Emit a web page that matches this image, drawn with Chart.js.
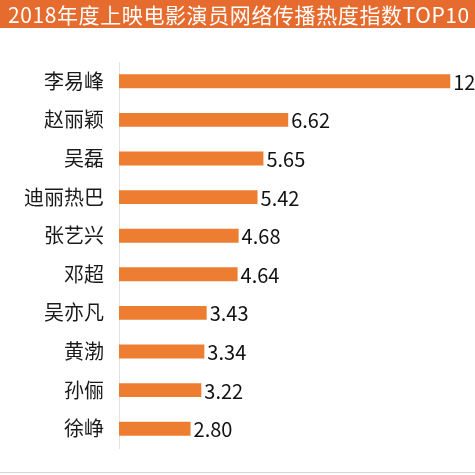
<!DOCTYPE html>
<html>
<head>
<meta charset="utf-8">
<script src="https://cdn.jsdelivr.net/npm/chart.js@4/dist/chart.umd.min.js"></script>
<style>
    html, body { margin: 0; padding: 0; background: #fff; }
    #wrap { position: relative; width: 475px; height: 475px; overflow: hidden; }
    #chart { position: absolute; left: 0; top: 0; }
    #title {
        position: absolute; left: 0; top: 0; width: 475px; height: 28px;
        background: #e56b2e; color: #fff;
        font: 400 21px "Noto Sans CJK SC", sans-serif;
        line-height: 28px; padding-left: 8px; box-sizing: border-box;
        white-space: nowrap; letter-spacing: 0.6px;
    }
    #bottomLine {
        position: absolute; left: 0; top: 472px; width: 475px; height: 1px; background: #d4d4d4;
    }
</style>
</head>
<body>
<div id="wrap">
    <canvas id="chart" width="475" height="475"></canvas>
    <div id="title">2018年度上映电影演员网络传播热度指数TOP10</div>
    <div id="bottomLine"></div>
</div>
<script>
const actors = ['李易峰', '赵丽颖', '吴磊', '迪丽热巴', '张艺兴', '邓超', '吴亦凡', '黄渤', '孙俪', '徐峥'];
const heatIndex = [12.96, 6.62, 5.65, 5.42, 4.68, 4.64, 3.43, 3.34, 3.22, 2.80];

// draw the value text just past the end of each bar
const valueLabels = {
    id: 'valueLabels',
    afterDatasetsDraw(chart) {
        const ctx = chart.ctx;
        const meta = chart.getDatasetMeta(0);
        ctx.save();
        ctx.font = '20px "Noto Sans CJK SC", sans-serif';
        ctx.fillStyle = '#111';
        ctx.textAlign = 'left';
        ctx.textBaseline = 'middle';
        meta.data.forEach((bar, i) => {
            ctx.fillText(heatIndex[i].toFixed(2), bar.x + 3, bar.y + 1);
        });
        ctx.restore();
    }
};

new Chart(document.getElementById('chart'), {
    type: 'bar',
    data: {
        labels: actors,
        datasets: [{
            data: heatIndex,
            backgroundColor: '#ed7d31',
            categoryPercentage: 1,
            barPercentage: 0.36
        }]
    },
    options: {
        indexAxis: 'y',
        responsive: false,
        animation: false,
        layout: { padding: { top: 62, bottom: 26, left: 0, right: 2 } },
        plugins: {
            legend: { display: false },
            tooltip: { enabled: false }
        },
        scales: {
            x: {
                display: false,
                min: 0,
                max: 13.85
            },
            y: {
                afterFit(scale) { scale.width = 119; },
                grid: { display: false, drawTicks: false },
                border: { display: true, color: '#e2e2e2', width: 1 },
                ticks: {
                    padding: 15,
                    color: '#1a1a1a',
                    font: { family: '"Noto Sans CJK SC", sans-serif', size: 20 }
                }
            }
        }
    },
    plugins: [valueLabels]
});
</script>
</body>
</html>
